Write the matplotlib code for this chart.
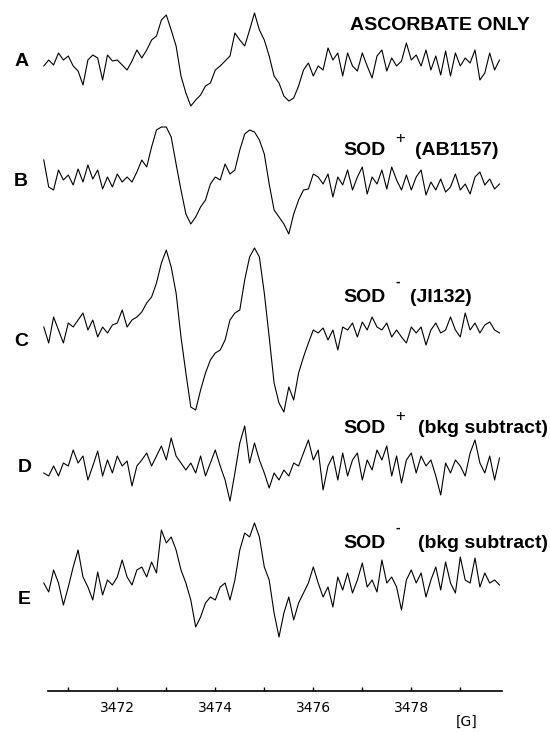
import numpy as np
import matplotlib
matplotlib.use("Agg")
import matplotlib.pyplot as plt

# field sweep (G), one reading every 0.1 G
field_start = 3470.5
field_step = 0.1

# trace amplitudes (arbitrary units, baseline = 0)
trace_a = [-3, 3, -2, 10, 3, 7, -3, -8, -22, 3, 8, 5, -17, 8, 2, 3, -2, -7, 2, 13,
           5, 13, 23, 27, 43, 48, 33, 17, -13, -30, -43, -37, -32, -23, -20, -7, -3, 2, 7, 30,
           23, 17, 33, 50, 33, 23, 7, -13, -20, -33, -38, -35, -23, -7, 0, -13, -3, -7, 15, 3,
           10, -13, 10, -3, -8, 10, -3, -15, 7, 13, -8, 5, -3, 2, 20, 3, 8, -3, 13, -7,
           7, -12, 12, -13, 10, -3, 5, 0, 13, -17, -10, 10, -7, 3]
trace_b = [22, -5, -8, 12, 2, 7, -3, 13, 0, 17, 3, 12, -7, 5, -5, 8, 0, 5, 0, 10,
           22, 15, 35, 52, 55, 55, 45, 18, -8, -32, -42, -35, -25, -18, -2, 5, 2, 18, 8, 12,
           32, 48, 52, 50, 42, 28, -2, -28, -35, -42, -52, -32, -18, -8, -7, 8, 5, -2, 8, -15,
           5, -3, 12, -8, 5, 15, -12, 5, -2, 12, -7, 15, 2, -8, 7, -8, 5, 12, -13, 0,
           -8, 3, -10, -5, 8, -8, -2, -12, 5, 10, -3, 3, -7, -2]
trace_c = [3, -13, 13, 0, -13, 7, 3, 10, 17, 0, 10, -7, 3, -3, 5, 7, 20, 3, 10, 13,
           18, 27, 33, 47, 67, 80, 63, 37, -7, -43, -77, -80, -60, -43, -30, -23, -20, -10, 10, 17,
           20, 50, 73, 82, 73, 37, -7, -53, -73, -82, -57, -70, -43, -27, -13, 0, -3, 2, -10, 0,
           -20, 3, 0, 7, -7, 8, 0, 13, 3, 0, 7, -7, 0, -7, -13, 3, -3, 3, -15, 0,
           7, -3, 0, 13, 0, -7, 17, 0, 7, -3, 5, 8, 0, -3]
trace_d = [-5, -8, 2, -8, 5, 2, 18, 5, 12, -12, 2, 17, -8, 8, -5, 12, 2, 7, -18, 2,
           8, 15, 2, 12, 22, 8, 30, 12, 5, -2, 5, -5, 12, -8, 5, 18, 2, -12, -33, -5,
           25, 42, 5, 25, 8, -5, -20, -5, -12, -2, -8, 5, 2, 15, 28, 8, 18, -22, 2, 12,
           -12, 15, -8, 8, 15, -12, 8, -2, 18, 8, 22, -8, 12, -15, 8, 15, -5, 12, 2, 8,
           -8, -27, 5, -5, 8, 2, -8, 15, 28, 5, -5, 12, -12, 10]
trace_e = [2, -7, 15, 2, -20, -2, 18, 35, 8, -2, -15, 13, -10, 5, 0, 8, 25, 8, 0, 15,
           18, 8, 23, 12, 55, 42, 48, 35, 15, 2, -15, -42, -32, -18, -12, -15, -2, 2, -15, 5,
           35, 52, 48, 62, 48, 18, 5, -28, -52, -28, -12, -35, -18, -8, 2, 18, 2, -12, -2, -22,
           8, -5, 12, -8, 5, 22, -2, 5, -7, 25, 2, 8, -2, -25, 5, 15, 2, 12, -12, 5,
           18, -5, 23, 2, -8, 28, 5, 2, 27, -2, 12, 2, 5, 0]

traces = [trace_a, trace_b, trace_c, trace_d, trace_e]
letters = ["A", "B", "C", "D", "E"]

tick_vals = [3471, 3472, 3473, 3474, 3475, 3476, 3477, 3478, 3479]
tick_labels = ["", "3472", "", "3474", "", "3476", "", "3478", ""]

W, H = 550, 732
baselines = [63, 182, 330, 468, 585]
letter_pos = [(22, 66), (21, 186), (21, 346), (25, 472), (24, 604)]

field = field_start + field_step * np.arange(len(trace_a))

fig = plt.figure(figsize=(W / 100, H / 100), dpi=100)
ax = fig.add_axes([48 / W, 1 - 691 / H, (502 - 48) / W, 691 / H])
ax.set_xlim(3470.586, 3479.851)
ax.set_ylim(691, 0)

for vals, base in zip(traces, baselines):
    ax.plot(field, base - np.array(vals), color="black", lw=0.8, clip_on=False)

for s in ["top", "left", "right"]:
    ax.spines[s].set_visible(False)
ax.spines["bottom"].set_linewidth(1.2)
ax.set_yticks([])
ax.set_xticks(tick_vals)
ax.set_xticklabels(tick_labels)
ax.tick_params(axis="x", direction="in", length=3, width=1, pad=7, labelsize=10)


def ftext(x, y, s, **kw):
    fig.text(x / W, 1 - y / H, s, **kw)


bold = dict(fontsize=14, fontweight="bold", family="Liberation Sans", va="baseline")
for (x, y), letter in zip(letter_pos, letters):
    ftext(x, y, letter, ha="center", **bold)

ftext(530, 30, "ASCORBATE ONLY", ha="right", **bold)

titles = [(155, "+", "(AB1157)", 415), (302, "-", "(JI132)", 410),
          (433, "+", "(bkg subtract)", 418), (548, "-", "(bkg subtract)", 418)]
for y, sign, rest, xr in titles:
    ftext(343, y, "SOD", ha="left", **bold)
    ftext(xr, y, rest, ha="left", **bold)
    if sign == "+":
        ftext(400, y - 17, "+", ha="center", va="center", fontsize=12,
              family="Liberation Sans")
    else:
        ftext(398, y - 20, "-", ha="center", va="center", fontsize=10,
              fontweight="bold", family="Liberation Sans")

ftext(467, 722, "[G]", ha="center", va="center", fontsize=10)

fig.savefig("out.png", dpi=100)
